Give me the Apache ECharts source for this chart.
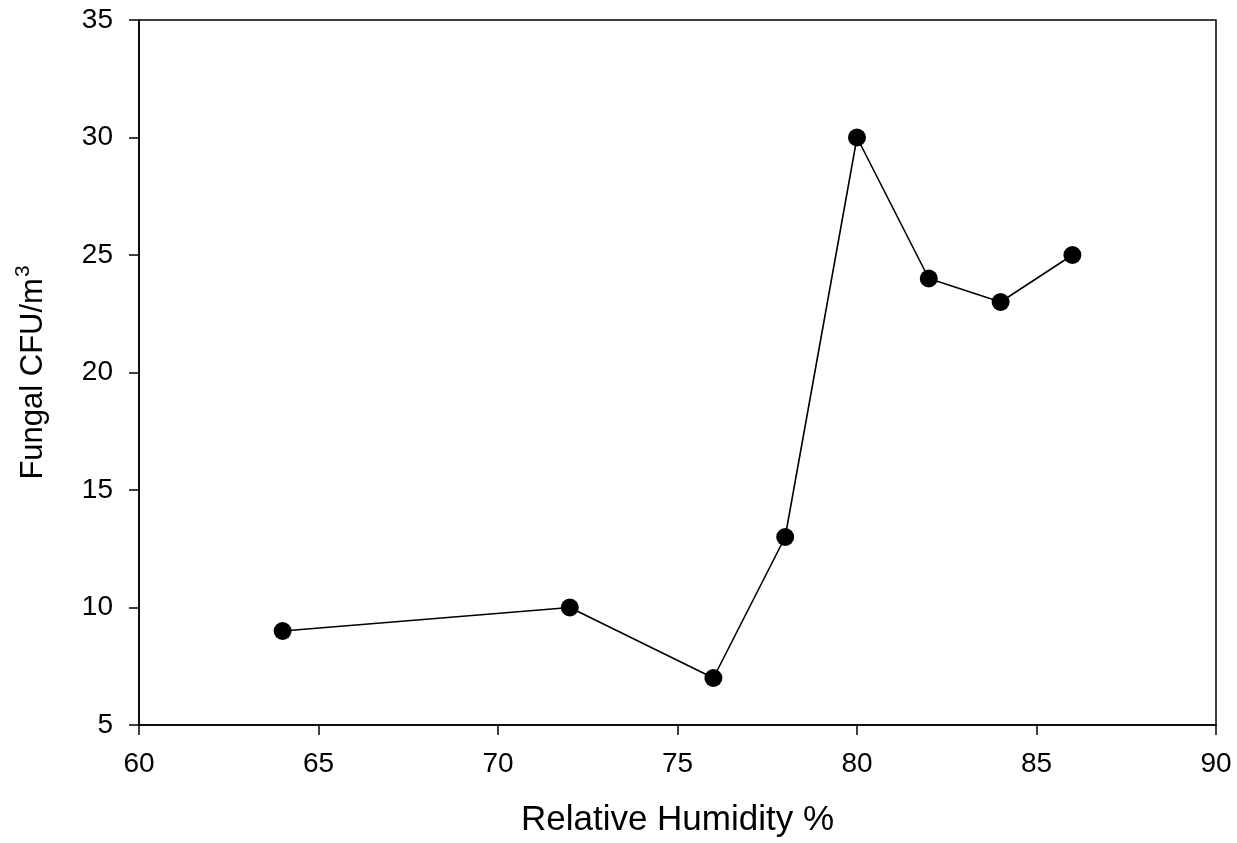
<!DOCTYPE html>
<html><head><meta charset="utf-8">
<script src="https://cdn.jsdelivr.net/npm/echarts@6/dist/echarts.min.js"></script>
<style>html,body{margin:0;padding:0;background:#fff}#c{width:1237px;height:843px}</style>
</head><body><div id="c"></div>
<script>
const humidity = [64, 72, 76, 78, 80, 82, 84, 86];
const fungalCFU = [9, 10, 7, 13, 30, 24, 23, 25];
const xTitle = 'Relative Humidity %';
const yTitleMain = 'Fungal CFU/m';
const yTitleSup = '3';

const FONT = '"Liberation Sans", Arial, sans-serif';
const chart = echarts.init(document.getElementById('c'));
chart.setOption({
  animation: false,
  backgroundColor: '#fff',
  grid: { left: 139, right: 21, top: 20, bottom: 118, show: true, borderColor: '#000', borderWidth: 1.5, backgroundColor: 'transparent' },
  xAxis: {
    type: 'value', min: 60, max: 90, interval: 5,
    name: xTitle, nameLocation: 'middle', nameGap: 78,
    nameTextStyle: { fontFamily: FONT, fontSize: 35, color: '#000' },
    axisLine: { show: true, lineStyle: { color: '#000', width: 1.5 } },
    axisTick: { show: true, inside: false, length: 10, lineStyle: { color: '#000', width: 1.5 } },
    axisLabel: { fontFamily: FONT, fontSize: 28, color: '#000', margin: 25 },
    splitLine: { show: false }
  },
  yAxis: {
    type: 'value', min: 5, max: 35, interval: 5,
    name: '{a|' + yTitleMain + '}{s|' + yTitleSup + '}', nameLocation: 'middle', nameGap: 90, nameRotate: 90,
    nameTextStyle: {
      fontFamily: FONT, fontSize: 31, color: '#000',
      rich: {
        a: { fontFamily: FONT, fontSize: 31, color: '#000', lineHeight: 36, verticalAlign: 'bottom' },
        s: { fontFamily: FONT, fontSize: 21, color: '#000', lineHeight: 36, verticalAlign: 'top', padding: [0, 0, 16, 1] }
      }
    },
    axisLine: { show: true, lineStyle: { color: '#000', width: 1.5 } },
    axisTick: { show: true, inside: false, length: 10, lineStyle: { color: '#000', width: 1.5 } },
    axisLabel: { fontFamily: FONT, fontSize: 28, color: '#000', margin: 26 },
    splitLine: { show: false }
  },
  series: [{
    type: 'line',
    data: humidity.map((h, i) => [h, fungalCFU[i]]),
    symbol: 'circle', symbolSize: 18,
    lineStyle: { color: '#000', width: 1.6 },
    itemStyle: { color: '#000' }
  }]
});
</script></body></html>
